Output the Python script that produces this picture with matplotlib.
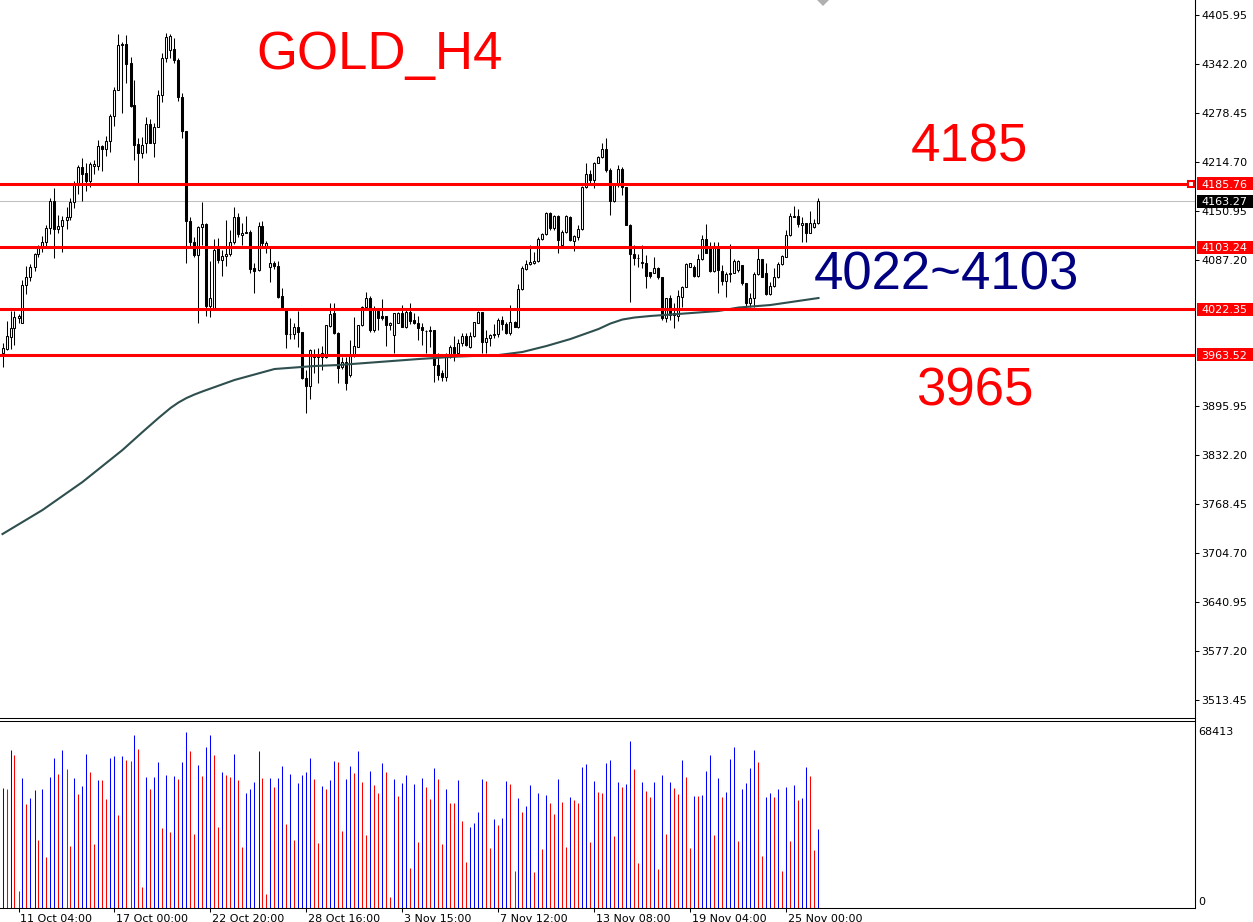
import matplotlib
matplotlib.use("Agg")
import matplotlib.pyplot as plt
from matplotlib.patches import Rectangle, Polygon
from matplotlib.lines import Line2D
import matplotlib.transforms as mtransforms
import numpy as np

# ---- data ----
opens = [
    3966.0, 3970.8, 3986.8, 3997.7, 4010.7, 4004.2, 4053.7, 4064.1, 4077.2, 4094.1,
    4101.9, 4109.7, 4128.0, 4163.2, 4126.7, 4130.6, 4138.4, 4142.3, 4161.9, 4185.3,
    4207.9, 4199.6, 4190.1, 4209.6, 4209.6, 4234.8, 4230.9, 4241.3, 4274.4, 4307.8,
    4368.2, 4368.2, 4343.4, 4288.2, 4237.4, 4226.6, 4238.7, 4263.5, 4239.6, 4260.5,
    4301.3, 4349.5, 4360.3, 4361.2, 4347.3, 4298.7, 4254.8, 4138.0, 4110.2, 4092.8,
    4129.3, 4133.2, 4026.8, 4024.6, 4101.9, 4086.7, 4091.5, 4094.5, 4110.2, 4142.3,
    4118.9, 4121.9, 4123.2, 4076.7, 4073.3, 4130.6, 4105.5, 4078.0, 4083.3, 4078.9,
    4039.8, 4021.6, 3989.9, 3989.9, 3999.0, 3992.5, 3932.5, 3923.0, 3962.9, 3960.0,
    3961.0, 3960.8, 4000.8, 4017.3, 3992.0, 3947.8, 3954.3, 3936.9, 3961.7, 3973.8,
    4002.0, 4025.1, 4036.8, 3995.5, 4020.7, 4013.8, 4013.8, 4002.0, 3989.0, 4005.1,
    4018.1, 3999.9, 4019.4, 4008.6, 4004.2, 3999.0, 3994.7, 3994.2, 3995.5, 3950.0,
    3939.1, 3934.7, 3961.7, 3973.8, 3965.1, 3978.2, 3988.2, 3973.8, 3987.7, 4005.1,
    4019.4, 3980.3, 3985.1, 3989.0, 3990.3, 4008.6, 4002.9, 3991.2, 4006.4, 3999.0,
    4048.5, 4075.0, 4081.5, 4083.3, 4085.4, 4113.7, 4120.6, 4147.5, 4128.0, 4144.0,
    4106.3, 4123.6, 4142.3, 4111.9, 4117.1, 4126.7, 4181.4, 4198.3, 4191.0, 4213.5,
    4220.5, 4230.9, 4204.0, 4164.0, 4184.4, 4204.9, 4181.4, 4132.3, 4094.5, 4089.8,
    4083.2, 4083.2, 4071.5, 4070.2, 4076.7, 4065.0, 4010.7, 4037.6, 4018.1, 4014.0,
    4039.0, 4052.0, 4077.2, 4077.2, 4066.3, 4087.6, 4113.7, 4101.9, 4072.8, 4102.8,
    4072.8, 4059.8, 4068.5, 4070.2, 4073.7, 4080.2, 4056.3, 4031.1, 4036.8, 4068.5,
    4087.6, 4069.4, 4042.4, 4052.9, 4064.2, 4081.5, 4091.1, 4119.3, 4143.2, 4144.1,
    4132.3, 4134.5, 4122.3, 4129.3, 4134.5,
]
highs = [
    3978.2, 4007.3, 4020.3, 4020.3, 4016.4, 4060.2, 4078.9, 4081.1, 4095.9, 4106.3,
    4118.4, 4132.3, 4167.1, 4180.5, 4145.4, 4144.1, 4156.2, 4167.1, 4190.1, 4210.5,
    4219.6, 4212.7, 4214.0, 4217.0, 4243.1, 4236.6, 4248.3, 4277.0, 4312.6, 4380.8,
    4371.2, 4379.9, 4350.8, 4321.3, 4245.3, 4247.4, 4272.6, 4270.0, 4264.8, 4308.2,
    4356.0, 4382.1, 4380.8, 4375.5, 4349.5, 4303.9, 4254.8, 4143.2, 4117.1, 4131.0,
    4161.9, 4135.4, 4085.4, 4113.6, 4115.0, 4099.8, 4138.8, 4125.8, 4156.2, 4148.4,
    4134.5, 4144.5, 4125.8, 4082.4, 4136.7, 4138.0, 4112.0, 4105.0, 4085.0, 4085.9,
    4049.8, 4022.4, 4010.7, 4005.1, 4020.7, 3993.4, 3943.4, 3970.8, 3970.8, 3971.6,
    3975.0, 4002.1, 4031.1, 4030.3, 3993.0, 3960.0, 3959.9, 3982.5, 4012.9, 4002.0,
    4026.8, 4045.5, 4039.8, 4026.8, 4020.7, 4035.5, 4013.8, 4006.4, 4018.1, 4019.4,
    4028.1, 4021.6, 4030.3, 4017.2, 4013.8, 4004.2, 3995.5, 4000.7, 3995.5, 3965.1,
    3943.4, 3965.1, 3976.0, 3987.7, 3983.4, 3991.2, 3991.2, 3993.4, 4006.4, 4020.7,
    4019.4, 3995.5, 3990.3, 4003.4, 4010.7, 4013.8, 4006.4, 4028.1, 4006.8, 4055.0,
    4078.9, 4086.7, 4106.3, 4097.6, 4117.1, 4122.3, 4149.7, 4149.7, 4145.4, 4145.4,
    4125.8, 4145.4, 4144.0, 4119.3, 4132.3, 4183.1, 4212.7, 4204.0, 4214.8, 4222.2,
    4239.6, 4245.3, 4206.2, 4186.0, 4210.5, 4207.5, 4182.3, 4133.6, 4106.3, 4094.5,
    4106.3, 4093.2, 4071.5, 4091.1, 4078.0, 4065.0, 4037.6, 4041.1, 4030.3, 4048.0,
    4052.9, 4082.4, 4083.3, 4080.2, 4094.5, 4119.3, 4133.6, 4110.6, 4110.6, 4110.6,
    4080.2, 4071.5, 4107.6, 4087.6, 4086.7, 4080.2, 4056.3, 4043.3, 4071.5, 4101.9,
    4087.6, 4082.4, 4058.5, 4075.9, 4084.6, 4093.2, 4125.8, 4147.5, 4157.1, 4152.7,
    4143.2, 4135.4, 4151.0, 4139.7, 4167.1,
]
lows = [
    3946.9, 3969.5, 3970.3, 3975.5, 4005.1, 4004.2, 4042.0, 4059.8, 4072.0, 4091.1,
    4097.6, 4105.0, 4120.2, 4089.8, 4121.5, 4097.6, 4127.1, 4138.8, 4154.0, 4172.7,
    4164.0, 4177.1, 4182.3, 4198.8, 4204.0, 4203.1, 4222.2, 4227.9, 4261.3, 4307.8,
    4278.7, 4316.9, 4286.5, 4217.5, 4186.6, 4219.2, 4225.7, 4238.7, 4221.4, 4260.5,
    4293.0, 4345.1, 4349.5, 4343.0, 4294.3, 4245.3, 4083.3, 4104.1, 4091.1, 4004.2,
    4106.3, 4014.2, 4012.0, 4024.6, 4082.4, 4066.3, 4078.9, 4091.9, 4107.6, 4116.3,
    4106.3, 4121.5, 4070.2, 4044.2, 4072.8, 4101.9, 4096.0, 4058.5, 4075.0, 4037.0,
    4022.0, 3971.6, 3983.4, 3983.4, 3973.8, 3932.0, 3886.9, 3905.2, 3939.0, 3926.0,
    3944.0, 3959.0, 4000.0, 3989.9, 3926.9, 3945.0, 3917.3, 3934.7, 3960.8, 3972.9,
    4000.7, 4021.6, 3993.4, 3993.4, 3995.5, 4008.6, 3974.7, 3995.5, 3966.0, 4004.2,
    3999.0, 3997.7, 4003.3, 4003.3, 3982.5, 3976.0, 3965.1, 3973.8, 3928.2, 3930.4,
    3929.5, 3929.5, 3958.6, 3955.6, 3963.0, 3974.7, 3974.7, 3971.6, 3986.8, 4004.2,
    3965.1, 3965.1, 3974.7, 3984.7, 3986.8, 3995.5, 3990.3, 3989.0, 3999.0, 3997.7,
    4047.6, 4073.7, 4080.2, 4081.5, 4084.6, 4112.8, 4119.3, 4125.8, 4125.8, 4096.3,
    4106.3, 4122.3, 4111.9, 4098.9, 4112.8, 4125.8, 4180.1, 4184.4, 4180.1, 4212.7,
    4219.2, 4201.8, 4145.4, 4162.7, 4182.3, 4171.4, 4132.3, 4032.4, 4080.2, 4078.0,
    4075.9, 4049.8, 4062.8, 4069.4, 4061.5, 4008.5, 4006.4, 4008.5, 3997.7, 4007.0,
    4025.9, 4051.1, 4077.2, 4065.0, 4065.0, 4086.7, 4095.4, 4071.5, 4071.5, 4043.3,
    4054.2, 4038.0, 4058.5, 4069.4, 4071.5, 4054.2, 4025.9, 4025.9, 4025.9, 4067.2,
    4064.2, 4041.1, 4041.1, 4052.0, 4062.8, 4080.2, 4090.2, 4118.0, 4142.3, 4130.2,
    4110.6, 4110.6, 4121.5, 4128.0, 4133.6,
]
closes = [
    3971.6, 3987.7, 3997.7, 4012.0, 4013.8, 4053.7, 4064.1, 4077.2, 4094.1, 4101.9,
    4109.7, 4128.0, 4163.2, 4126.7, 4130.6, 4138.4, 4142.3, 4161.9, 4185.3, 4207.9,
    4198.3, 4190.1, 4211.4, 4211.4, 4234.8, 4230.9, 4241.3, 4274.4, 4307.8, 4366.4,
    4366.4, 4342.5, 4286.9, 4237.0, 4226.6, 4236.6, 4263.5, 4238.7, 4260.5, 4301.3,
    4349.5, 4377.7, 4378.6, 4347.3, 4298.7, 4254.8, 4138.0, 4110.2, 4092.8, 4129.3,
    4133.2, 4026.8, 4036.8, 4099.8, 4086.7, 4091.5, 4094.5, 4110.2, 4142.3, 4120.2,
    4121.9, 4123.2, 4074.6, 4072.8, 4130.6, 4108.4, 4109.5, 4083.3, 4078.9, 4039.0,
    4023.8, 3989.9, 3990.5, 3999.0, 3992.5, 3932.5, 3923.0, 3969.5, 3959.9, 3962.9,
    3965.0, 4002.1, 4016.4, 3992.0, 3945.6, 3954.3, 3926.0, 3963.0, 3974.7, 4002.0,
    4025.9, 4036.8, 3995.5, 4022.4, 4010.7, 4010.7, 4002.0, 4005.1, 4018.1, 4018.1,
    3999.9, 4019.4, 4007.7, 4004.2, 3997.7, 3995.5, 3994.2, 3995.5, 3950.0, 3936.9,
    3934.7, 3961.7, 3973.0, 3965.1, 3978.2, 3988.2, 3976.0, 3988.2, 4006.0, 4019.4,
    3980.3, 3985.1, 3989.0, 3990.3, 4008.6, 4002.9, 3991.2, 4006.4, 3999.9, 4049.0,
    4075.9, 4081.5, 4084.6, 4085.4, 4113.7, 4120.2, 4147.5, 4128.0, 4144.0, 4112.8,
    4123.6, 4144.0, 4112.8, 4118.0, 4126.7, 4182.3, 4198.3, 4191.0, 4213.5, 4220.5,
    4230.9, 4204.0, 4164.0, 4184.4, 4204.9, 4182.3, 4132.3, 4094.5, 4089.8, 4088.9,
    4084.0, 4065.9, 4065.9, 4076.7, 4064.1, 4010.7, 4037.6, 4015.1, 4015.1, 4039.5,
    4052.0, 4081.5, 4082.4, 4066.3, 4087.6, 4113.7, 4096.3, 4072.8, 4102.8, 4073.7,
    4059.8, 4068.5, 4070.2, 4085.9, 4085.9, 4056.3, 4030.3, 4036.8, 4068.5, 4087.6,
    4065.0, 4042.4, 4052.9, 4064.2, 4081.5, 4092.0, 4119.3, 4144.1, 4144.1, 4133.2,
    4134.5, 4122.3, 4134.5, 4135.4, 4163.27,
]
volumes = [
    46650, 46260, 61420, 59470, 6610, 50530, 40430, 42760, 45740, 26430,
    46260, 19830, 50920, 58310, 52090, 61420, 54030, 24100, 50530, 44310,
    47420, 59860, 52860, 24880, 49750, 49500, 42370, 58310, 59080, 36150,
    59080, 57530, 57140, 67250, 61800, 8160, 50920, 46260, 50920, 56750,
    31100, 51700, 29540, 51310, 50140, 56750, 68413, 61030, 28760, 55590,
    51310, 62580, 67250, 59470, 31490, 52860, 51700, 50920, 59860, 49750,
    23710, 44700, 46260, 48980, 61030, 50530, 5440, 50530, 47030, 50530,
    55200, 32650, 52090, 26430, 48590, 51700, 52860, 58310, 50140, 25270,
    47420, 46260, 49750, 57140, 56750, 29930, 50140, 55200, 52480, 61030,
    48980, 28380, 53250, 47810, 44700, 56360, 52860, 4280, 50140, 43540,
    48590, 51700, 15420, 48200, 25660, 50530, 47030, 42370, 54420, 50140,
    24880, 46260, 40810, 40700, 49750, 33820, 17880, 31490, 33040, 37320,
    50140, 49360, 23320, 34590, 32260, 34980, 49360, 48200, 14380, 42760,
    37320, 39650, 47810, 13990, 44700, 22930, 43920, 40810, 36540, 50140,
    41200, 23710, 43150, 41980, 40810, 54810, 55970, 25660, 49360, 45090,
    44700, 56360, 57530, 27990, 48980, 47030, 48200, 64910, 54030, 17490,
    48980, 45480, 43150, 48980, 15160, 51700, 28760, 48980, 46650, 44310,
    57530, 50920, 23320, 43540, 43400, 43920, 53250, 59470, 28380, 50530,
    43150, 45090, 57920, 62580, 26040, 46260, 48590, 54420, 61420, 56750,
    20210, 43150, 44700, 43150, 46260, 14380, 47030, 26040, 47810, 41980,
    42760, 54810, 51310, 22550, 30710,
]
# moving average read at a few bars
ma_bars = [0, 10, 20, 30, 35, 39, 42, 44, 46, 48, 50, 58, 68, 78, 84, 94, 104,
           114, 124, 130, 136, 142, 149, 152, 155, 158, 162, 169, 179, 184, 192, 204]
ma_vals = [3729.7, 3761.0, 3797.5, 3839.2, 3862.6, 3880.9, 3893.9, 3901.1,
           3906.9, 3911.5, 3915.5, 3930.4, 3944.7, 3948.6, 3949.9, 3953.8,
           3957.7, 3961.0, 3962.9, 3966.9, 3974.7, 3983.8, 3996.8, 4004.0,
           4009.2, 4011.8, 4013.8, 4016.4, 4020.3, 4024.8, 4028.1, 4037.2]

levels = [4185.76, 4103.24, 4022.35, 3963.52]
last_price = 4163.27
price_ticks = [4405.95, 4342.20, 4278.45, 4214.70, 4150.95, 4087.20,
               3895.95, 3832.20, 3768.45, 3704.70, 3640.95, 3577.20, 3513.45]
date_bars = [4, 28, 52, 76, 100, 124, 148, 172, 196]
date_labels = ['11 Oct 04:00', '17 Oct 00:00', '22 Oct 20:00', '28 Oct 16:00',
               '3 Nov 15:00', '7 Nov 12:00', '13 Nov 08:00', '19 Nov 04:00',
               '25 Nov 00:00']
vol_top = 68413

# ---- figure layout (pixel based) ----
W, H = 1253, 922
plt.rcParams['font.family'] = ['DejaVu Sans']
fig = plt.figure(figsize=(W / 100, H / 100), dpi=100)


def fx(px):
    return px / W


def fy(py):
    return 1 - py / H


ax = fig.add_axes([0, fy(718), fx(1195), fy(0) - fy(718)])
axv = fig.add_axes([0, fy(907.7), fx(1195), fy(721) - fy(907.7)])

x = np.arange(len(opens))
o = np.array(opens)
h = np.array(highs)
l = np.array(lows)
c = np.array(closes)
up = c >= o

ax.axhline(last_price, color='#C0C0C0', lw=0.75, zorder=1)
ax.vlines(x, l, h, color='black', lw=0.75, zorder=2)
ax.bar(x[up], (c - o)[up], bottom=o[up], width=0.5, color='white',
       edgecolor='black', linewidth=0.75, zorder=3)
ax.bar(x[~up], (c - o)[~up], bottom=o[~up], width=0.5, color='black',
       edgecolor='black', linewidth=0.75, zorder=3)
ax.plot(ma_bars, ma_vals, color='#2F4F4F', lw=1.5, zorder=4)
for lv in levels:
    ax.axhline(lv, color='#FF0000', lw=2.2, zorder=5)
ax.plot([297.2], [levels[0]], marker='s', ms=4.5, mfc='white', mec='#FF0000',
        mew=1.5, clip_on=False, zorder=6)

ax.set_xlim(-0.625, 298.125)
ax.set_ylim(3490.0, 4425.49)
ax.set_xticks([])
ax.yaxis.tick_right()
ax.set_yticks(price_ticks)
ax.set_yticklabels([f'{t:.2f}' for t in price_ticks])
ax.tick_params(axis='y', length=3, width=0.75, pad=1.7, labelsize=8, colors='black')
for s in ['top', 'left']:
    ax.spines[s].set_visible(False)
ax.spines['right'].set_linewidth(0.75)
ax.spines['bottom'].set_linewidth(0.75)

# volume panel
v = np.array(volumes)
rising = np.r_[True, v[1:] > v[:-1]]
vcol = np.where(rising, '#0000FF', '#FF0000')
axv.vlines(x, 0, v, colors=vcol, lw=0.75)
axv.set_xlim(-0.625, 298.125)
axv.set_ylim(0, vol_top * (907.7 - 721) / 176.0)
axv.set_yticks([])
axv.set_xticks(date_bars)
axv.tick_params(axis='x', length=3, width=0.75, labelbottom=False)
axv.spines['left'].set_visible(False)
for s in ['top', 'right']:
    axv.spines[s].set_linewidth(0.75)
axv.spines['bottom'].set_linewidth(0.75)
axv.spines['bottom'].set_linestyle((0, (3, 1)))

fig.add_artist(Line2D([fx(1195), fx(1195)], [fy(0), fy(907.7)],
                      transform=fig.transFigure, color='black', lw=0.75))

# price boxes on the right scale
bt = mtransforms.blended_transform_factory(fig.transFigure, ax.transData)
box_h = 13 * (4425.49 - 3490.0) / 718
for lv in levels:
    fig.add_artist(Rectangle((fx(1196.5), lv - box_h / 2), fx(56), box_h,
                             transform=bt, facecolor='#FF0000', edgecolor='none',
                             zorder=10))
    fig.text(fx(1201.5), lv, f'{lv:.2f}', transform=bt, color='white',
             fontsize=8, va='center_baseline', ha='left', zorder=11)
fig.add_artist(Rectangle((fx(1196.5), last_price - box_h / 2), fx(56), box_h,
                         transform=bt, facecolor='black', edgecolor='none', zorder=10))
fig.text(fx(1201.5), last_price, f'{last_price:.2f}', transform=bt, color='white',
         fontsize=8, va='center_baseline', ha='left', zorder=11)

fig.text(fx(1198.5), fy(726.5), str(vol_top), fontsize=8, va='top', ha='left')
fig.text(fx(1198.5), fy(907), '0', fontsize=8, va='bottom', ha='left')

dt = mtransforms.blended_transform_factory(axv.transData, fig.transFigure)
for b, lab in zip(date_bars, date_labels):
    fig.text(b + 0.3, fy(913.5), lab, transform=dt, fontsize=8, va='top', ha='left')

# chart-shift marker at the top
fig.add_artist(Polygon([[fx(817), fy(0)], [fx(829), fy(0)], [fx(823), fy(6)]],
                       closed=True, transform=fig.transFigure, facecolor='#B0B0B0',
                       edgecolor='none'))

big = dict(fontsize=38, family='Liberation Sans', va='baseline', ha='left')
fig.text(fx(256), fy(69), 'GOLD_H4', color='#FF0000', **big)
fig.text(fx(911), fy(161), '4185', color='#FF0000', **big)
fig.text(fx(814), fy(290), '4022~4103', color='#000080', **big)
fig.text(fx(916), fy(405), '3965', color='#FF0000', **big)

fig.savefig('out.png', dpi=100, facecolor='white')
